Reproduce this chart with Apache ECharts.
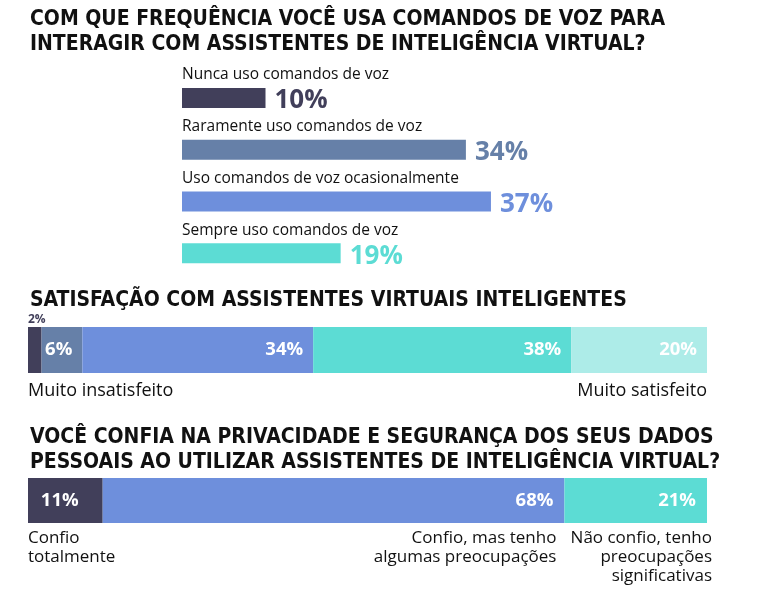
<!DOCTYPE html>
<html><head><meta charset="utf-8">
<script src="https://cdn.jsdelivr.net/npm/echarts@6/dist/echarts.min.js"></script>
<style>html,body{margin:0;padding:0;background:#fff}#c{width:758px;height:599px}</style>
</head><body><div id="c"></div>
<script>
// ---- data ----
const freqTitle = 'COM QUE FREQUÊNCIA VOCÊ USA COMANDOS DE VOZ PARA\nINTERAGIR COM ASSISTENTES DE INTELIGÊNCIA VIRTUAL?';
const freqCategories = ['Nunca uso comandos de voz', 'Raramente uso comandos de voz', 'Uso comandos de voz ocasionalmente', 'Sempre uso comandos de voz'];
const freqValues = [10, 34, 37, 19];

const satTitle = 'SATISFAÇÃO COM ASSISTENTES VIRTUAIS INTELIGENTES';
const satValues = [2, 6, 34, 38, 20];
const satEndLabels = ['Muito insatisfeito', 'Muito satisfeito'];

const privTitle = 'VOCÊ CONFIA NA PRIVACIDADE E SEGURANÇA DOS SEUS DADOS\nPESSOAIS AO UTILIZAR ASSISTENTES DE INTELIGÊNCIA VIRTUAL?';
const privValues = [11, 68, 21];
const privCategories = ['Confio\ntotalmente', 'Confio, mas tenho\nalgumas preocupações', 'Não confio, tenho\npreocupações\nsignificativas'];

// ---- styles ----
const C_DARK = '#413f5a', C_SLATE = '#6680a8', C_BLUE = '#6e8fdc', C_TEAL = '#5cdcd4', C_LIGHT = '#adece8';
const freqColors = [C_DARK, C_SLATE, C_BLUE, C_TEAL];
const satColors = [C_DARK, C_SLATE, C_BLUE, C_TEAL, C_LIGHT];
const privColors = [C_DARK, C_BLUE, C_TEAL];
const privLabelDx = [0, -8, 5];
const COND = "'Liberation Sans Narrow','DejaVu Sans Condensed',sans-serif";
const SANS = "'Open Sans','Noto Sans',sans-serif";
const TXT = '#111111';

const chart = echarts.init(document.getElementById('c'), null, {renderer: 'canvas'});

const titleStyle = {fontFamily: COND, fontWeight: 'bold', fontSize: 21, color: TXT, lineHeight: 25};
const inLabel = {color: '#ffffff', fontFamily: SANS, fontWeight: 'bold', fontSize: 18.5};

const series = [];
// chart 1
series.push({
  type: 'bar', xAxisIndex: 0, yAxisIndex: 0, barWidth: 20,
  data: freqValues.map((v, i) => ({value: v, itemStyle: {color: freqColors[i]},
    label: {color: freqColors[i]}})),
  label: {show: true, position: 'right', distance: 9, offset: [0, 3], formatter: '{c}%',
    fontFamily: SANS, fontWeight: 'bold', fontSize: 26},
  silent: true
});
// chart 2 stacked
satValues.forEach((v, i) => {
  const lbl = i === 0
    ? {show: true, position: [0, -1], verticalAlign: 'bottom', align: 'left', formatter: '{c}%', color: C_DARK, fontFamily: SANS, fontWeight: 'bold', fontSize: 12}
    : Object.assign({show: true, position: 'insideRight', distance: 10, formatter: '{c}%'}, inLabel);
  series.push({type: 'bar', stack: 'sat', xAxisIndex: 1, yAxisIndex: 1, barWidth: 46,
    itemStyle: {color: satColors[i]}, label: lbl, data: [v], silent: true});
});
// chart 3 stacked
privValues.forEach((v, i) => {
  series.push({type: 'bar', stack: 'priv', xAxisIndex: 2, yAxisIndex: 2, barWidth: 45,
    itemStyle: {color: privColors[i]},
    label: Object.assign({show: true, position: 'insideRight', distance: i === 0 ? 24 : 11, formatter: '{c}%'}, inLabel),
    data: [v], silent: true});
});

const hiddenX = (max) => ({type: 'value', min: 0, max: max, show: false});
const option = {
  animation: false,
  title: [
    {text: freqTitle, left: 30, top: 7, padding: 0, textStyle: titleStyle},
    {text: satTitle, left: 30, top: 288, padding: 0, textStyle: titleStyle},
    {text: privTitle, left: 30, top: 425, padding: 0, textStyle: titleStyle}
  ],
  grid: [
    {left: 182, top: 72, width: 501, height: 207},
    {left: 28, top: 327, width: 679, height: 46},
    {left: 28, top: 478, width: 679, height: 45}
  ],
  xAxis: [hiddenX(60), hiddenX(100), hiddenX(100)].map((a, i) => Object.assign(a, {gridIndex: i})),
  yAxis: [
    {type: 'category', gridIndex: 0, inverse: true, data: freqCategories,
      axisLine: {show: false}, axisTick: {show: false},
      axisLabel: {inside: true, margin: 0, align: 'left', verticalAlign: 'bottom', padding: [0, 0, 15, 0],
        color: TXT, fontFamily: SANS, fontSize: 15.5}},
    {type: 'category', gridIndex: 1, data: ['s'], show: false},
    {type: 'category', gridIndex: 2, data: ['p'], show: false}
  ],
  series: series
};
chart.setOption(option);

// category texts under stacked bars, positioned by the library's scales
const gfx = [];
const satStyle = {fontFamily: SANS, fontSize: 18, fill: TXT, lineHeight: 20};
const privStyle = {fontFamily: SANS, fontSize: 17, fill: TXT, lineHeight: 19};
const satY = chart.convertToPixel({yAxisIndex: 1}, 0) + 23;
gfx.push({type: 'text', x: chart.convertToPixel({xAxisIndex: 1}, 0), y: satY + 8,
  style: Object.assign({text: satEndLabels[0], align: 'left', verticalAlign: 'top'}, satStyle)});
gfx.push({type: 'text', x: chart.convertToPixel({xAxisIndex: 1}, 100), y: satY + 8,
  style: Object.assign({text: satEndLabels[1], align: 'right', verticalAlign: 'top'}, satStyle)});
const privY = chart.convertToPixel({yAxisIndex: 2}, 0) + 22.5;
let cum = 0;
privValues.forEach((v, i) => {
  const start = cum; cum += v;
  const x = (i === 0 ? chart.convertToPixel({xAxisIndex: 2}, start) : chart.convertToPixel({xAxisIndex: 2}, cum)) + privLabelDx[i];
  gfx.push({type: 'text', x: x, y: privY + 6,
    style: Object.assign({text: privCategories[i], align: i === 0 ? 'left' : 'right', verticalAlign: 'top'}, privStyle)});
});
chart.setOption({graphic: gfx});
</script></body></html>
